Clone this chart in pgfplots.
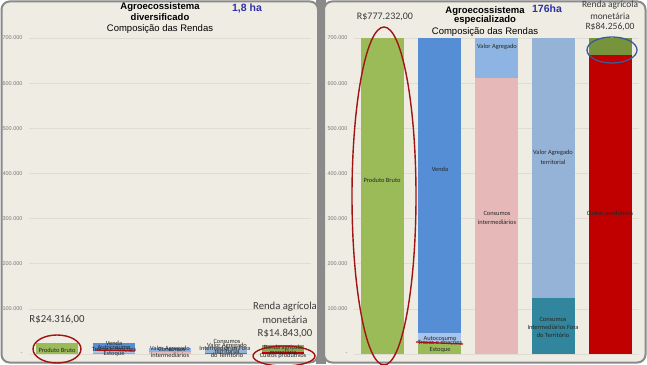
\documentclass[border=0pt]{standalone}
\usepackage{fontspec}
\setmainfont{Liberation Sans}
\newfontfamily\calfont{Carlito}
\usepackage{pgfplots}
\pgfplotsset{compat=1.18}
\definecolor{panelbg}{HTML}{EEECE3}
\definecolor{framegray}{HTML}{8A8A8A}
\definecolor{gridc}{HTML}{DEDCD3}
\definecolor{tickgray}{HTML}{7A7A7A}
\definecolor{pbgreen}{HTML}{9BBB59}
\definecolor{vblue}{HTML}{558ED5}
\definecolor{autoblue}{HTML}{A9C4EB}
\definecolor{vablue}{HTML}{8DB4E2}
\definecolor{vatblue}{HTML}{95B3D7}
\definecolor{cipink}{HTML}{E6B9B8}
\definecolor{teal}{HTML}{31859C}
\definecolor{cred}{HTML}{C00000}
\definecolor{dgreen}{HTML}{77933C}
\definecolor{titleblue}{HTML}{2E31A5}
\definecolor{ellred}{HTML}{A01414}
\definecolor{ellblue}{HTML}{3A5A9A}
\definecolor{lbl}{HTML}{262626}
\definecolor{money}{HTML}{3A3A3A}
\pgfplotsset{panel/.style={
  scale only axis, height=316pt, anchor=south west,
  xmin=-0.5, xmax=4.5, ymin=0, ymax=700000,
  ybar stacked,
  axis line style={draw=none}, tick style={draw=none},
  xtick=\empty, scaled y ticks=false,
  ytick={0,100000,200000,300000,400000,500000,600000,700000},
  yticklabels={-,100.000,200.000,300.000,400.000,500.000,600.000,700.000},
  yticklabel style={font=\fontsize{5.5}{6}\selectfont, text=tickgray, xshift=-3pt},
  ymajorgrids, major grid style={color=gridc, line width=0.6pt},
  every axis plot/.append style={draw=none},
}}
\begin{document}
\begin{tikzpicture}[x=1pt,y=1pt]
\useasboundingbox (0,0) rectangle (647,364);
\fill[white] (0,0) rectangle (647,364);
\fill[framegray] (316,0) rectangle (326,364);
\draw[framegray, line width=2pt, fill=panelbg, rounded corners=8pt] (1.5,1.5) rectangle (318,362.5);
\draw[framegray, line width=2pt, fill=panelbg, rounded corners=8pt] (324,1.5) rectangle (645.5,362.5);

% Left panel
\begin{axis}[panel, at={(29pt,10pt)}, width=282pt, bar width=42pt]
\addplot[fill=pbgreen] coordinates {(0,24316) (1,0) (2,0) (3,0) (4,0)};
\addplot[fill=pbgreen] coordinates {(0,0) (1,2000) (2,0) (3,0) (4,0)};
\addplot[fill=autoblue] coordinates {(0,0) (1,4000) (2,0) (3,0) (4,0)};
\addplot[fill=vblue] coordinates {(0,0) (1,18316) (2,0) (3,0) (4,0)};
\addplot[fill=cipink] coordinates {(0,0) (1,0) (2,4000) (3,0) (4,0)};
\addplot[fill=vablue] coordinates {(0,0) (1,0) (2,10000) (3,0) (4,0)};
\addplot[fill=teal] coordinates {(0,0) (1,0) (2,0) (3,3000) (4,0)};
\addplot[fill=vatblue] coordinates {(0,0) (1,0) (2,0) (3,12000) (4,0)};
\addplot[fill=cred] coordinates {(0,0) (1,0) (2,0) (3,0) (4,5000)};
\addplot[fill=pbgreen!90!black] coordinates {(0,0) (1,0) (2,0) (3,0) (4,14843)};
\end{axis}

% Right panel
\begin{axis}[panel, at={(354pt,10pt)}, width=285pt, bar width=43pt]
\addplot[fill=pbgreen] coordinates {(0,777232) (1,0) (2,0) (3,0) (4,0)};
\addplot[fill=pbgreen] coordinates {(0,0) (1,24000) (2,0) (3,0) (4,0)};
\addplot[fill=autoblue] coordinates {(0,0) (1,22000) (2,0) (3,0) (4,0)};
\addplot[fill=vblue] coordinates {(0,0) (1,731232) (2,0) (3,0) (4,0)};
\addplot[fill=cipink] coordinates {(0,0) (1,0) (2,611000) (3,0) (4,0)};
\addplot[fill=vablue] coordinates {(0,0) (1,0) (2,166232) (3,0) (4,0)};
\addplot[fill=teal] coordinates {(0,0) (1,0) (2,0) (3,124000) (4,0)};
\addplot[fill=vatblue] coordinates {(0,0) (1,0) (2,0) (3,653232) (4,0)};
\addplot[fill=cred] coordinates {(0,0) (1,0) (2,0) (3,0) (4,663000)};
\addplot[fill=dgreen] coordinates {(0,0) (1,0) (2,0) (3,0) (4,84256)};
\end{axis}

% Titles
\node[font=\bfseries\fontsize{9.5}{10}\selectfont] at (160,357) {Agroecossistema};
\node[font=\bfseries\fontsize{9.5}{10}\selectfont] at (160,347) {diversificado};
\node[font=\fontsize{9.5}{10}\selectfont] at (160,335) {Composição das Rendas};
\node[font=\bfseries\fontsize{10.5}{11}\selectfont, text=titleblue] at (247,355) {1,8 ha};
\node[font=\bfseries\fontsize{9.5}{10}\selectfont] at (485,353) {Agroecossistema};
\node[font=\bfseries\fontsize{9.5}{10}\selectfont] at (485,344) {especializado};
\node[font=\fontsize{9.5}{10}\selectfont] at (485,332) {Composição das Rendas};
\node[font=\bfseries\fontsize{10.5}{11}\selectfont, text=titleblue] at (547,355) {176ha};

% Money annotations
\node[font=\calfont\fontsize{10.8}{12}\selectfont, text=money] at (57,44) {R\$24.316,00};
\node[font=\calfont\fontsize{10.7}{12}\selectfont, text=money] at (285,57) {Renda agrícola};
\node[font=\calfont\fontsize{10.7}{12}\selectfont, text=money] at (285,44) {monetária};
\node[font=\calfont\fontsize{10.7}{12}\selectfont, text=money] at (285,30) {R\$14.843,00};
\node[font=\calfont\fontsize{10}{12}\selectfont, text=money] at (385,347) {R\$777.232,00};
\node[font=\calfont\fontsize{9.4}{11}\selectfont, text=money] at (610,359) {Renda agrícola};
\node[font=\calfont\fontsize{9.4}{11}\selectfont, text=money] at (610,348) {monetária};
\node[font=\calfont\fontsize{9.6}{11}\selectfont, text=money] at (610,337) {R\$84.256,00};

% In-bar labels
\begin{scope}[every node/.style={font=\calfont\fontsize{6.4}{7}\selectfont, text=lbl, inner sep=0pt}]
\node at (57,14) {Produto Bruto};
\node at (114,21) {Venda};
\node at (114,17) {Autocosumo};
\node at (114,14) {Trocas e doações};
\node at (114,10) {Estoque};
\node at (170,15) {Valor Agregado};
\node at (172,15) {Consumos};
\node at (170,9) {intermediários};
\node at (227,23) {Consumos};
\node at (227,18) {Valor Agregado};
\node at (225,16) {Intermediários Fora};
\node at (227,13) {territorial};
\node at (227,9) {do Território};
\node at (283,16) {Renda agrícola};
\node at (283,12) {monetária};
\node at (283,8) {Custos produtivos};
\node at (382,184) {Produto Bruto};
\node at (440,195) {Venda};
\node at (440,26) {Autocosumo};
\node at (440,21) {Trocas e doações};
\node at (440,14) {Estoque};
\node at (497,317) {Valor Agregado};
\node at (497,151) {Consumos};
\node at (497,142) {intermediários};
\node at (553,211) {Valor Agregado};
\node at (553,202) {territorial};
\node at (553,45) {Consumos};
\node at (553,37) {Intermediários Fora};
\node at (553,29) {do Território};
\node at (610,150) {Custos produtivos};
\end{scope}

% Hand-drawn marks
\draw[ellred, line width=1.3pt] (95,14) -- (135,13);
\draw[ellred, line width=1.3pt] (416,22) -- (463,20);
\draw[ellred, line width=1.4pt] (57,15) ellipse [x radius=24, y radius=14];
\draw[ellred, line width=1.4pt] (284,8) ellipse [x radius=31, y radius=10];
\draw[ellred, line width=1.4pt] (384,168) ellipse [x radius=32, y radius=169];
\draw[ellblue, line width=1.3pt] (612,314) ellipse [x radius=25, y radius=13];
\end{tikzpicture}
\end{document}
